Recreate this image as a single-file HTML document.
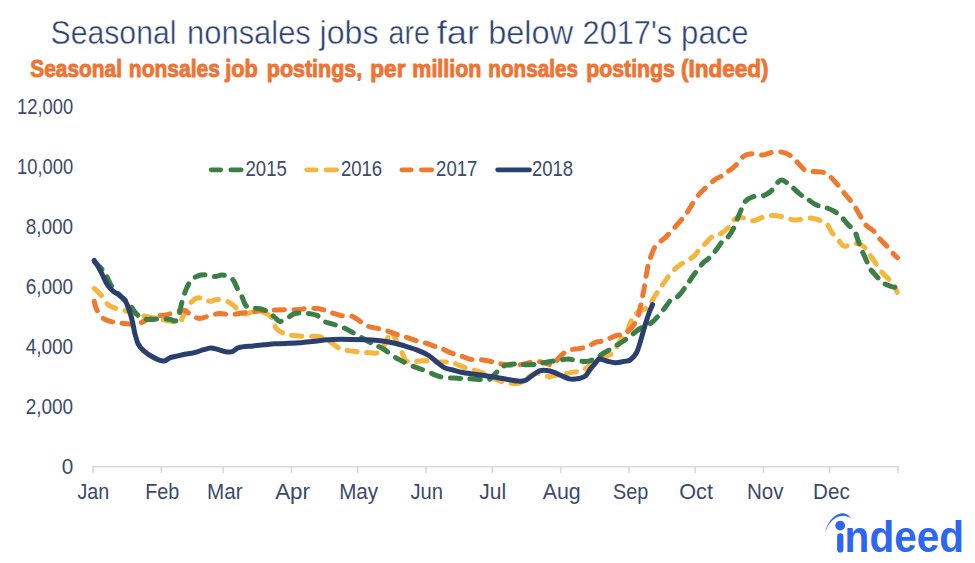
<!DOCTYPE html>
<html><head><meta charset="utf-8"><title>Seasonal nonsales jobs</title>
<style>
html,body{margin:0;padding:0;background:#fff;}
body{width:975px;height:563px;overflow:hidden;}
svg{display:block;}
.ax{font-family:"Liberation Sans",Arial,sans-serif;font-size:21.8px;fill:#3b4a6b;}
.title{font-family:"Liberation Sans",Arial,sans-serif;font-size:32.3px;fill:#2d4271;stroke:#fff;stroke-width:0.45px;}
.sub{font-family:"Liberation Sans",Arial,sans-serif;font-size:23px;font-weight:bold;fill:#ef7433;stroke:#ef7433;stroke-width:0.9px;stroke-linejoin:round;}
.logo{font-family:"Liberation Sans",Arial,sans-serif;font-size:44px;font-weight:bold;fill:#2d66f0;}
</style></head>
<body>
<svg width="975" height="563" viewBox="0 0 975 563">
<rect width="975" height="563" fill="#fff"/>
<text x="17.10" y="114.10" class="ax" textLength="56.08" lengthAdjust="spacingAndGlyphs">12,000</text>
<text x="17.10" y="174.03" class="ax" textLength="56.08" lengthAdjust="spacingAndGlyphs">10,000</text>
<text x="25.70" y="233.96" class="ax" textLength="47.45" lengthAdjust="spacingAndGlyphs">8,000</text>
<text x="25.70" y="293.89" class="ax" textLength="47.45" lengthAdjust="spacingAndGlyphs">6,000</text>
<text x="25.70" y="353.82" class="ax" textLength="47.45" lengthAdjust="spacingAndGlyphs">4,000</text>
<text x="25.70" y="413.75" class="ax" textLength="47.45" lengthAdjust="spacingAndGlyphs">2,000</text>
<text x="61.70" y="473.68" class="ax" textLength="11.52" lengthAdjust="spacingAndGlyphs">0</text>
<text x="50.60" y="43.70" class="title" textLength="125.80" lengthAdjust="spacingAndGlyphs">Seasonal</text>
<text x="187.10" y="43.70" class="title" textLength="123.74" lengthAdjust="spacingAndGlyphs">nonsales</text>
<text x="319.60" y="43.70" class="title" textLength="58.98" lengthAdjust="spacingAndGlyphs">jobs</text>
<text x="388.50" y="43.70" class="title" textLength="41.31" lengthAdjust="spacingAndGlyphs">are</text>
<text x="436.70" y="43.70" class="title" textLength="42.47" lengthAdjust="spacingAndGlyphs">far</text>
<text x="488.20" y="43.70" class="title" textLength="84.93" lengthAdjust="spacingAndGlyphs">below</text>
<text x="582.60" y="43.70" class="title" textLength="89.52" lengthAdjust="spacingAndGlyphs">2017's</text>
<text x="681.10" y="43.70" class="title" textLength="67.45" lengthAdjust="spacingAndGlyphs">pace</text>
<text x="30.30" y="77.20" class="sub" textLength="91.63" lengthAdjust="spacingAndGlyphs">Seasonal</text>
<text x="128.80" y="77.20" class="sub" textLength="91.10" lengthAdjust="spacingAndGlyphs">nonsales</text>
<text x="225.24" y="77.20" class="sub" textLength="32.65" lengthAdjust="spacingAndGlyphs">job</text>
<text x="266.80" y="77.20" class="sub" textLength="95.39" lengthAdjust="spacingAndGlyphs">postings,</text>
<text x="370.30" y="77.20" class="sub" textLength="35.13" lengthAdjust="spacingAndGlyphs">per</text>
<text x="412.30" y="77.20" class="sub" textLength="69.15" lengthAdjust="spacingAndGlyphs">million</text>
<text x="488.30" y="77.20" class="sub" textLength="89.60" lengthAdjust="spacingAndGlyphs">nonsales</text>
<text x="586.30" y="77.20" class="sub" textLength="88.63" lengthAdjust="spacingAndGlyphs">postings</text>
<text x="680.90" y="77.20" class="sub" textLength="87.57" lengthAdjust="spacingAndGlyphs">(Indeed)</text>
<line x1="92.5" y1="466.8" x2="898" y2="466.8" stroke="#d9d9d9" stroke-width="1.6"/>
<line x1="93.0" y1="466" x2="93.0" y2="473" stroke="#d9d9d9" stroke-width="1.6"/>
<line x1="161.4" y1="466" x2="161.4" y2="473" stroke="#d9d9d9" stroke-width="1.6"/>
<line x1="223.1" y1="466" x2="223.1" y2="473" stroke="#d9d9d9" stroke-width="1.6"/>
<line x1="291.5" y1="466" x2="291.5" y2="473" stroke="#d9d9d9" stroke-width="1.6"/>
<line x1="357.7" y1="466" x2="357.7" y2="473" stroke="#d9d9d9" stroke-width="1.6"/>
<line x1="426.0" y1="466" x2="426.0" y2="473" stroke="#d9d9d9" stroke-width="1.6"/>
<line x1="492.2" y1="466" x2="492.2" y2="473" stroke="#d9d9d9" stroke-width="1.6"/>
<line x1="560.6" y1="466" x2="560.6" y2="473" stroke="#d9d9d9" stroke-width="1.6"/>
<line x1="628.9" y1="466" x2="628.9" y2="473" stroke="#d9d9d9" stroke-width="1.6"/>
<line x1="695.1" y1="466" x2="695.1" y2="473" stroke="#d9d9d9" stroke-width="1.6"/>
<line x1="763.5" y1="466" x2="763.5" y2="473" stroke="#d9d9d9" stroke-width="1.6"/>
<line x1="829.6" y1="466" x2="829.6" y2="473" stroke="#d9d9d9" stroke-width="1.6"/>
<line x1="898.0" y1="466" x2="898.0" y2="473" stroke="#d9d9d9" stroke-width="1.6"/>
<text x="77.50" y="499.20" class="ax" textLength="31.75" lengthAdjust="spacingAndGlyphs">Jan</text>
<text x="145.20" y="499.20" class="ax" textLength="34.06" lengthAdjust="spacingAndGlyphs">Feb</text>
<text x="207.10" y="499.20" class="ax" textLength="35.45" lengthAdjust="spacingAndGlyphs">Mar</text>
<text x="275.20" y="499.20" class="ax" textLength="34.83" lengthAdjust="spacingAndGlyphs">Apr</text>
<text x="339.20" y="499.20" class="ax" textLength="38.98" lengthAdjust="spacingAndGlyphs">May</text>
<text x="410.40" y="499.20" class="ax" textLength="32.55" lengthAdjust="spacingAndGlyphs">Jun</text>
<text x="479.30" y="499.20" class="ax" textLength="26.87" lengthAdjust="spacingAndGlyphs">Jul</text>
<text x="542.70" y="499.20" class="ax" textLength="37.99" lengthAdjust="spacingAndGlyphs">Aug</text>
<text x="613.10" y="499.20" class="ax" textLength="35.19" lengthAdjust="spacingAndGlyphs">Sep</text>
<text x="679.30" y="499.20" class="ax" textLength="33.61" lengthAdjust="spacingAndGlyphs">Oct</text>
<text x="747.00" y="499.20" class="ax" textLength="36.57" lengthAdjust="spacingAndGlyphs">Nov</text>
<text x="813.10" y="499.20" class="ax" textLength="36.67" lengthAdjust="spacingAndGlyphs">Dec</text>
<path d="M94.2 288.5 C95.4 289.6 98.9 292.7 101.2 295.4 C103.5 298.1 105.8 302.5 108.1 304.6 C110.4 306.7 112.3 307.1 115.0 308.1 C117.7 309.1 121.1 309.5 124.2 310.4 C127.3 311.3 130.0 312.4 133.5 313.4 C137.0 314.4 141.2 315.3 145.0 316.2 C148.8 317.1 152.7 317.7 156.5 318.5 C160.3 319.3 164.2 320.2 168.1 320.8 C171.9 321.4 176.9 323.1 179.6 321.9 C182.3 320.7 182.3 317.1 184.2 313.8 C186.1 310.5 188.9 305.0 191.2 302.3 C193.5 299.6 196.0 298.1 198.1 297.7 C200.2 297.3 201.9 299.4 204.0 300.0 C206.1 300.6 208.5 301.3 210.7 301.2 C212.9 301.1 214.5 299.5 217.0 299.4 C219.5 299.3 223.1 299.9 225.6 300.7 C228.1 301.5 229.9 302.8 232.0 304.3 C234.1 305.8 236.3 308.1 238.4 309.7 C240.5 311.3 242.3 313.5 244.8 313.9 C247.3 314.2 250.5 312.1 253.3 311.8 C256.1 311.5 259.0 311.1 261.8 311.8 C264.6 312.5 268.4 314.3 270.3 316.1 C272.2 317.9 272.4 320.4 273.5 322.5 C274.6 324.6 275.1 327.1 276.7 328.9 C278.3 330.7 280.6 332.0 283.1 333.1 C285.6 334.2 288.4 334.8 291.6 335.3 C294.8 335.8 298.4 336.1 302.3 336.3 C306.2 336.5 311.7 336.1 315.1 336.3 C318.6 336.5 320.4 336.6 323.0 337.6 C325.6 338.6 328.2 340.6 331.0 342.4 C333.8 344.2 337.2 347.3 339.9 348.6 C342.6 349.9 344.1 349.9 347.0 350.4 C349.9 350.9 354.4 351.4 357.6 351.8 C360.9 352.2 363.2 352.3 366.5 352.5 C369.8 352.7 374.4 353.6 377.1 353.0 C379.8 352.4 380.9 350.8 382.5 348.6 C384.1 346.4 385.4 342.4 386.9 339.7 C388.4 337.0 389.7 332.3 391.3 332.6 C392.9 332.9 395.1 338.5 396.7 341.5 C398.3 344.5 399.6 347.3 401.1 350.4 C402.6 353.5 403.6 358.2 405.5 360.1 C407.4 362.0 409.9 361.8 412.6 361.9 C415.3 362.0 418.8 360.8 421.5 360.7 C424.2 360.6 426.4 360.8 428.6 361.0 C430.9 361.2 432.4 361.8 435.0 361.9 C437.6 362.0 441.2 361.8 444.2 361.9 C447.1 362.0 449.8 362.0 452.7 362.7 C455.6 363.4 458.4 365.1 461.3 366.2 C464.2 367.3 466.7 368.2 469.8 369.1 C472.9 370.1 476.5 370.7 479.8 371.9 C483.1 373.1 486.6 374.8 489.7 376.2 C492.8 377.6 495.6 379.3 498.2 380.4 C500.8 381.5 502.1 382.1 505.4 382.6 C508.7 383.1 514.7 384.0 518.2 383.3 C521.8 382.6 523.9 380.0 526.7 378.3 C529.5 376.6 532.6 373.9 535.2 373.3 C537.8 372.7 539.8 374.1 542.3 374.7 C544.8 375.3 548.1 376.8 550.0 376.9 C551.9 377.0 551.5 375.9 553.5 375.5 C555.5 375.1 558.8 375.4 562.0 374.8 C565.2 374.2 569.5 372.7 572.7 372.1 C575.9 371.5 578.4 372.3 581.2 371.2 C584.1 370.1 586.9 367.4 589.8 365.3 C592.6 363.2 595.5 360.0 598.3 358.4 C601.1 356.8 604.3 356.7 606.8 355.7 C609.3 354.7 611.2 354.5 613.2 352.5 C615.2 350.5 617.1 346.2 618.5 343.9 C619.9 341.6 620.3 340.7 621.7 338.6 C623.1 336.5 625.5 334.2 627.1 331.2 C628.7 328.2 629.7 323.5 631.3 320.5 C632.9 317.5 634.6 314.8 636.6 313.0 C638.6 311.2 640.9 311.0 643.0 309.8 C645.1 308.6 647.4 307.9 649.4 305.6 C651.4 303.3 653.0 298.9 654.8 296.0 C656.6 293.1 658.4 291.0 660.1 288.5 C661.8 286.0 663.3 283.5 665.0 281.1 C666.7 278.7 668.4 276.3 670.4 273.9 C672.4 271.5 675.0 268.8 677.3 266.9 C679.6 265.0 681.5 264.0 684.2 262.3 C686.9 260.6 691.0 258.6 693.5 256.5 C696.0 254.4 697.1 251.9 699.2 249.6 C701.3 247.3 704.1 244.8 706.2 242.7 C708.3 240.6 709.4 238.4 711.9 236.9 C714.4 235.4 718.4 235.2 721.2 233.5 C724.1 231.8 726.5 229.6 729.0 227.0 C731.5 224.4 733.4 219.6 736.0 218.1 C738.6 216.6 741.9 217.6 744.9 218.1 C747.9 218.6 750.8 221.0 753.7 220.8 C756.7 220.7 759.3 218.1 762.6 217.2 C765.9 216.3 770.0 215.5 773.3 215.4 C776.5 215.3 778.9 215.9 782.1 216.7 C785.4 217.4 789.8 219.4 792.8 219.9 C795.8 220.4 796.9 219.8 799.9 219.5 C802.9 219.2 807.4 218.0 810.5 218.1 C813.6 218.2 815.8 219.0 818.5 219.9 C821.2 220.8 824.3 221.3 826.5 223.4 C828.7 225.5 829.9 229.6 831.8 232.3 C833.7 235.0 836.0 237.1 838.1 239.4 C840.2 241.7 841.5 245.5 844.2 246.2 C847.0 246.9 851.5 243.5 854.6 243.4 C857.7 243.3 860.4 244.1 862.7 245.7 C865.0 247.3 866.6 250.5 868.5 253.1 C870.4 255.7 872.1 258.1 874.2 261.2 C876.3 264.3 878.9 268.6 881.2 271.5 C883.5 274.4 886.0 276.2 888.1 278.5 C890.2 280.8 892.3 283.1 893.8 285.4 C895.3 287.7 896.7 291.1 897.3 292.3" fill="none" stroke="#f6b53d" stroke-width="5.0" stroke-linecap="round" stroke-linejoin="round" stroke-dasharray="10.2 9.5"/>
<path d="M94.2 301.2 C94.6 302.5 95.0 306.3 96.5 309.2 C98.0 312.1 100.8 316.4 103.5 318.5 C106.2 320.6 109.2 321.1 112.7 321.9 C116.2 322.7 120.3 323.1 124.2 323.5 C128.1 323.9 132.3 324.6 135.8 324.2 C139.3 323.8 141.6 322.1 145.0 320.8 C148.4 319.5 153.0 317.2 156.5 316.2 C160.0 315.2 162.3 315.8 165.8 315.0 C169.3 314.2 174.2 312.3 177.3 311.5 C180.4 310.7 181.5 309.6 184.2 310.4 C186.9 311.2 190.9 314.8 193.5 316.2 C196.1 317.6 197.5 318.5 200.0 318.5 C202.5 318.5 205.3 316.9 208.5 316.1 C211.7 315.3 215.6 313.8 219.2 313.5 C222.8 313.2 226.2 314.6 229.8 314.6 C233.4 314.6 236.9 313.8 240.5 313.3 C244.1 312.8 247.6 312.2 251.2 311.8 C254.8 311.4 258.2 311.0 261.8 310.7 C265.4 310.4 268.6 310.3 272.5 310.1 C276.4 309.9 281.4 309.8 285.3 309.7 C289.2 309.6 292.3 309.9 295.9 309.7 C299.4 309.5 303.1 308.8 306.6 308.6 C310.2 308.4 314.0 308.3 317.2 308.6 C320.4 308.9 323.1 309.6 325.7 310.4 C328.3 311.1 330.1 312.2 332.8 313.1 C335.5 314.0 338.4 315.2 341.6 315.7 C344.9 316.2 349.0 315.2 352.3 316.3 C355.6 317.4 358.5 320.3 361.2 322.0 C363.9 323.7 365.4 325.3 368.3 326.4 C371.2 327.5 375.6 327.9 378.9 328.7 C382.1 329.5 384.8 330.2 387.8 331.2 C390.8 332.1 393.8 333.4 396.7 334.4 C399.6 335.4 402.2 336.0 405.5 337.0 C408.8 338.0 412.9 339.6 416.2 340.6 C419.5 341.6 422.0 341.9 425.1 342.9 C428.2 343.9 432.3 345.6 435.0 346.5 C437.7 347.4 438.7 347.3 441.4 348.4 C444.1 349.5 448.2 351.8 451.3 353.0 C454.4 354.2 456.8 354.5 459.9 355.5 C463.0 356.5 466.5 358.4 469.8 359.1 C473.1 359.8 476.5 359.1 479.8 359.5 C483.1 359.9 486.6 360.6 489.7 361.2 C492.8 361.8 495.3 362.8 498.2 363.4 C501.1 364.0 504.0 364.4 506.8 364.8 C509.6 365.2 512.0 365.7 515.3 365.5 C518.6 365.3 523.4 364.1 526.7 363.4 C530.0 362.7 532.4 361.3 535.2 361.2 C538.1 361.1 541.3 362.1 543.8 362.7 C546.3 363.2 548.4 364.2 550.0 364.5 C551.6 364.8 551.7 365.7 553.5 364.2 C555.3 362.7 558.5 358.0 561.0 355.7 C563.5 353.4 565.4 351.5 568.4 350.3 C571.4 349.1 575.9 349.2 579.1 348.6 C582.3 348.0 584.8 347.6 587.6 346.5 C590.5 345.4 593.4 343.2 596.2 342.2 C599.1 341.2 601.5 341.8 604.7 340.7 C607.9 339.6 612.1 336.9 615.3 335.8 C618.5 334.7 621.4 335.4 623.9 334.3 C626.4 333.2 628.2 331.3 630.3 329.0 C632.4 326.7 635.0 323.7 636.6 320.5 C638.2 317.3 638.9 313.4 639.8 309.8 C640.7 306.2 641.3 302.8 642.0 299.2 C642.7 295.6 643.2 293.5 644.1 288.5 C645.0 283.5 646.4 273.9 647.3 269.2 C648.2 264.4 648.2 263.8 649.6 260.0 C651.0 256.2 652.9 249.8 655.4 246.2 C657.9 242.5 662.1 240.4 664.6 238.1 C667.1 235.8 668.1 234.8 670.4 232.3 C672.7 229.8 676.0 226.0 678.5 223.1 C681.0 220.2 683.3 217.9 685.4 215.0 C687.5 212.1 688.9 209.3 691.2 205.8 C693.5 202.3 696.7 197.3 699.2 194.2 C701.7 191.1 703.5 189.8 706.2 187.3 C708.9 184.8 712.7 181.1 715.4 179.2 C718.1 177.3 720.3 177.0 722.3 175.8 C724.2 174.6 725.4 173.2 727.1 172.0 C728.8 170.8 730.6 169.9 732.4 168.4 C734.2 166.9 735.9 165.2 737.8 163.1 C739.7 161.0 741.6 157.6 744.0 156.0 C746.4 154.4 748.9 154.0 752.0 153.8 C755.1 153.7 759.4 155.3 762.6 155.1 C765.9 154.9 768.2 152.9 771.5 152.4 C774.8 151.9 778.9 151.5 782.1 152.1 C785.4 152.7 788.3 154.2 791.0 156.0 C793.7 157.8 795.7 160.7 798.1 163.1 C800.5 165.5 802.5 168.8 805.2 170.2 C807.9 171.6 810.9 171.2 814.1 171.6 C817.4 172.0 821.8 171.7 824.7 172.8 C827.7 173.9 829.6 176.1 831.8 178.2 C834.0 180.3 836.0 182.8 838.1 185.3 C840.2 187.8 842.2 190.7 844.2 193.1 C846.2 195.5 848.1 197.5 850.0 200.0 C851.9 202.5 854.1 205.4 855.8 208.1 C857.5 210.8 858.7 213.3 860.4 216.2 C862.1 219.1 864.1 223.0 866.2 225.4 C868.3 227.8 870.8 228.2 873.1 230.5 C875.4 232.8 877.7 236.6 880.0 239.2 C882.3 241.8 884.8 243.9 886.9 246.2 C889.0 248.5 890.9 251.2 892.7 253.1 C894.5 255.0 896.7 256.9 897.5 257.7" fill="none" stroke="#ef7a2f" stroke-width="5.0" stroke-linecap="round" stroke-linejoin="round" stroke-dasharray="10.2 9.5"/>
<path d="M94.5 262.0 C96.2 263.7 101.8 268.3 104.6 272.3 C107.4 276.3 108.9 282.3 111.5 286.2 C114.1 290.1 117.1 292.6 120.0 295.5 C122.9 298.4 126.4 300.8 128.8 303.5 C131.2 306.2 132.7 309.2 134.6 311.5 C136.5 313.8 137.9 315.9 140.4 317.3 C142.9 318.7 146.1 319.4 149.6 319.6 C153.1 319.8 157.7 318.5 161.2 318.5 C164.7 318.5 167.7 319.4 170.4 319.6 C173.1 319.8 175.4 322.5 177.3 319.6 C179.2 316.7 180.4 307.5 181.9 302.3 C183.4 297.1 184.9 292.1 186.5 288.5 C188.1 284.9 189.3 282.5 191.2 280.4 C193.1 278.3 195.8 276.7 198.1 275.8 C200.4 274.9 202.2 274.7 205.0 274.8 C207.8 274.9 212.2 276.6 214.9 276.6 C217.6 276.7 219.4 275.2 221.3 275.1 C223.2 275.0 224.7 275.2 226.6 276.0 C228.5 276.8 231.2 277.7 233.0 279.8 C234.8 281.9 235.9 285.7 237.3 288.4 C238.7 291.1 240.2 293.0 241.6 295.8 C243.0 298.6 244.2 303.4 245.8 305.4 C247.4 307.4 248.9 307.5 251.2 308.0 C253.5 308.5 256.9 308.0 259.7 308.6 C262.5 309.2 265.7 310.4 268.2 311.8 C270.7 313.2 272.7 315.5 274.6 317.1 C276.6 318.7 277.8 321.2 279.9 321.4 C282.0 321.6 285.1 319.4 287.4 318.2 C289.7 316.9 291.3 314.8 293.8 313.9 C296.3 313.0 299.5 312.9 302.3 312.9 C305.1 312.9 308.3 313.5 310.8 313.9 C313.3 314.3 315.0 314.3 317.2 315.5 C319.4 316.7 321.6 319.7 323.9 321.1 C326.2 322.5 328.1 322.7 331.0 323.7 C333.9 324.7 338.5 325.7 341.6 326.9 C344.7 328.1 346.6 329.2 349.6 330.8 C352.6 332.4 356.3 334.4 359.4 336.2 C362.5 338.0 365.6 340.0 368.3 341.5 C371.0 343.0 372.8 343.7 375.4 345.0 C378.0 346.3 381.2 347.7 384.2 349.5 C387.1 351.3 390.4 354.2 393.1 356.0 C395.8 357.8 397.2 358.5 400.2 360.1 C403.2 361.7 407.9 364.1 410.9 365.4 C413.9 366.7 415.1 367.0 418.0 368.1 C420.9 369.2 425.8 370.9 428.6 372.0 C431.4 373.1 432.4 374.0 435.0 374.9 C437.6 375.8 441.0 377.1 444.2 377.6 C447.4 378.1 450.9 377.8 454.2 378.0 C457.5 378.2 461.0 378.4 464.1 378.6 C467.2 378.8 469.4 378.8 472.7 379.0 C476.0 379.2 481.1 379.7 484.0 379.7 C486.9 379.7 488.3 379.8 490.0 379.0 C491.7 378.2 492.2 376.5 494.0 374.8 C495.8 373.1 498.5 370.3 500.5 368.7 C502.5 367.1 503.1 366.0 506.0 365.2 C508.9 364.4 514.8 363.9 518.2 363.8 C521.7 363.7 523.4 364.8 526.7 364.8 C530.0 364.9 535.2 364.5 538.1 364.1 C541.0 363.8 541.2 363.2 543.8 362.7 C546.4 362.2 550.5 361.5 553.5 361.0 C556.5 360.5 559.5 360.2 562.0 359.9 C564.5 359.5 565.9 358.8 568.4 358.9 C570.9 359.0 573.8 360.2 577.0 360.6 C580.2 361.0 584.4 361.9 587.6 361.4 C590.8 360.9 593.4 359.3 596.2 357.8 C599.1 356.3 601.5 354.4 604.7 352.5 C607.9 350.6 612.1 348.1 615.3 346.1 C618.5 344.1 621.0 342.7 623.9 340.7 C626.8 338.7 629.6 336.4 632.4 334.3 C635.2 332.2 637.7 329.9 640.9 328.0 C644.1 326.1 648.8 324.6 651.6 322.6 C654.5 320.6 655.8 318.7 658.0 316.2 C660.2 313.7 662.8 310.5 665.0 307.7 C667.2 304.9 669.2 301.2 671.5 299.2 C673.8 297.2 676.0 298.1 678.5 295.8 C681.0 293.5 684.4 288.3 686.5 285.4 C688.6 282.5 689.3 281.2 691.2 278.5 C693.1 275.8 696.0 271.9 698.1 269.2 C700.2 266.5 701.7 264.4 703.8 262.3 C705.9 260.2 708.7 258.6 710.8 256.5 C712.9 254.4 714.6 252.1 716.5 249.6 C718.4 247.1 720.4 243.6 722.3 241.5 C724.2 239.4 726.2 239.2 728.1 236.9 C730.0 234.6 732.2 231.1 733.9 227.7 C735.6 224.2 737.2 219.5 738.5 216.2 C739.8 212.9 740.8 210.6 741.9 208.1 C743.0 205.6 743.6 203.1 745.4 201.2 C747.2 199.3 749.9 197.7 752.8 196.8 C755.7 195.9 759.6 196.8 762.6 195.9 C765.6 195.0 768.2 193.6 770.6 191.5 C773.0 189.4 774.9 185.4 776.8 183.5 C778.7 181.6 779.7 179.6 782.1 180.0 C784.5 180.4 788.0 183.8 791.0 186.2 C794.0 188.5 797.2 192.0 799.9 194.1 C802.6 196.2 804.3 196.8 807.0 198.6 C809.7 200.4 812.9 203.4 815.9 204.8 C818.9 206.2 821.8 206.1 824.7 207.1 C827.7 208.1 830.9 209.5 833.6 211.0 C836.3 212.5 838.4 214.0 840.8 216.2 C843.1 218.4 845.4 221.7 847.7 224.2 C850.0 226.7 852.9 228.5 854.6 231.2 C856.3 233.9 857.0 237.3 858.1 240.4 C859.2 243.5 860.1 246.3 861.5 249.6 C862.9 252.9 864.9 256.9 866.2 260.0 C867.6 263.1 867.9 265.4 869.6 268.1 C871.3 270.8 874.2 273.7 876.5 276.2 C878.8 278.7 881.0 281.4 883.5 283.1 C886.0 284.8 889.2 285.7 891.5 286.5 C893.8 287.3 896.3 287.5 897.3 287.7" fill="none" stroke="#3a7f45" stroke-width="5.0" stroke-linecap="round" stroke-linejoin="round" stroke-dasharray="10.2 9.5"/>
<path d="M94.2 260.3 C95.0 261.5 97.5 265.3 98.8 267.7 C100.1 270.1 100.9 271.9 102.3 274.6 C103.7 277.3 105.2 281.1 106.9 283.8 C108.6 286.5 110.6 288.9 112.7 290.8 C114.8 292.7 117.5 293.7 119.6 295.4 C121.7 297.1 123.9 298.9 125.4 301.2 C126.9 303.5 127.7 305.9 128.8 309.2 C130.0 312.5 131.3 316.9 132.3 320.8 C133.3 324.7 133.6 328.5 134.6 332.3 C135.6 336.1 136.6 340.7 138.1 343.8 C139.6 346.9 141.5 348.7 143.8 350.8 C146.1 352.9 149.2 354.9 151.9 356.5 C154.6 358.1 157.8 359.7 160.0 360.4 C162.2 361.1 163.3 361.2 164.9 360.8 C166.5 360.4 167.9 358.6 169.8 357.9 C171.7 357.1 173.9 356.9 176.4 356.3 C178.9 355.7 181.9 354.8 184.6 354.2 C187.3 353.6 190.6 353.4 192.8 353.0 C195.0 352.6 195.9 352.2 197.7 351.7 C199.5 351.1 201.3 350.3 203.5 349.7 C205.7 349.1 208.6 348.1 210.9 348.0 C213.2 347.9 215.0 348.7 217.4 349.3 C219.8 349.9 223.1 351.3 225.6 351.7 C228.1 352.1 230.0 352.4 232.2 351.7 C234.4 351.0 235.3 348.6 238.8 347.6 C242.3 346.6 249.1 346.4 253.3 345.9 C257.5 345.4 260.3 345.1 263.9 344.8 C267.4 344.5 271.0 344.0 274.6 343.8 C278.2 343.6 281.8 343.5 285.3 343.4 C288.9 343.3 292.3 343.3 295.9 343.1 C299.4 342.9 303.1 342.5 306.6 342.1 C310.2 341.7 314.3 341.2 317.2 340.9 C320.1 340.6 321.3 340.4 323.9 340.1 C326.5 339.9 328.4 339.5 332.8 339.4 C337.2 339.3 344.6 339.3 350.5 339.4 C356.4 339.4 363.0 339.4 368.3 339.7 C373.6 340.0 378.1 340.5 382.5 341.1 C386.9 341.7 390.8 342.4 394.9 343.3 C399.0 344.2 403.4 345.6 407.3 346.8 C411.2 348.0 414.4 348.9 418.0 350.4 C421.6 351.8 425.7 353.7 428.6 355.5 C431.6 357.3 433.1 359.2 435.7 361.2 C438.3 363.2 441.4 366.1 444.2 367.6 C447.0 369.1 449.8 369.2 452.7 370.0 C455.6 370.8 458.0 371.6 461.3 372.3 C464.6 373.0 468.9 373.5 472.7 374.0 C476.5 374.5 480.7 375.0 484.0 375.5 C487.3 376.0 489.8 376.4 492.6 376.9 C495.5 377.4 498.3 377.8 501.1 378.3 C503.9 378.8 506.8 379.2 509.6 379.7 C512.5 380.2 515.6 381.0 518.2 381.1 C520.8 381.2 522.9 381.3 525.3 380.4 C527.7 379.5 530.0 377.1 532.4 375.5 C534.8 373.9 537.1 371.7 539.5 370.9 C541.9 370.1 544.3 370.3 546.6 370.5 C548.9 370.7 550.9 371.2 553.5 372.1 C556.1 373.0 559.1 374.7 562.0 375.9 C564.9 377.1 567.8 378.7 570.6 379.1 C573.5 379.5 576.6 379.0 579.1 378.5 C581.6 378.0 583.5 377.6 585.5 375.9 C587.5 374.2 589.0 370.7 590.8 368.4 C592.6 366.1 594.8 363.7 596.2 362.1 C597.6 360.5 597.5 359.1 599.3 358.9 C601.1 358.7 604.1 360.4 606.8 361.0 C609.5 361.6 612.4 362.6 615.3 362.7 C618.1 362.8 621.4 361.9 623.9 361.4 C626.4 360.9 628.2 361.4 630.3 359.9 C632.4 358.4 634.8 355.9 636.6 352.5 C638.4 349.1 639.5 344.3 640.9 339.7 C642.3 335.1 643.8 329.4 645.2 324.8 C646.6 320.2 648.2 315.4 649.4 312.0 C650.6 308.6 652.1 305.8 652.6 304.5" fill="none" stroke="#2b3f6e" stroke-width="5.0" stroke-linecap="round" stroke-linejoin="round"/>
<line x1="211.2" y1="169.8" x2="220.7" y2="169.8" stroke="#3a7f45" stroke-width="4.7" stroke-linecap="round"/><line x1="230.7" y1="169.8" x2="241.2" y2="169.8" stroke="#3a7f45" stroke-width="4.7" stroke-linecap="round"/><text x="245.50" y="175.80" class="ax" textLength="41.29" lengthAdjust="spacingAndGlyphs">2015</text>
<line x1="306.6" y1="169.8" x2="316.1" y2="169.8" stroke="#f6b53d" stroke-width="4.7" stroke-linecap="round"/><line x1="326.1" y1="169.8" x2="336.6" y2="169.8" stroke="#f6b53d" stroke-width="4.7" stroke-linecap="round"/><text x="340.90" y="175.80" class="ax" textLength="41.29" lengthAdjust="spacingAndGlyphs">2016</text>
<line x1="401.8" y1="169.8" x2="411.3" y2="169.8" stroke="#ef7a2f" stroke-width="4.7" stroke-linecap="round"/><line x1="421.3" y1="169.8" x2="431.8" y2="169.8" stroke="#ef7a2f" stroke-width="4.7" stroke-linecap="round"/><text x="436.10" y="175.80" class="ax" textLength="41.29" lengthAdjust="spacingAndGlyphs">2017</text>
<line x1="497.6" y1="169.8" x2="529.6" y2="169.8" stroke="#2b3f6e" stroke-width="4.7" stroke-linecap="round"/><text x="531.90" y="175.80" class="ax" textLength="41.29" lengthAdjust="spacingAndGlyphs">2018</text>
<g fill="#2d66f0">
<path d="M824.8 532.6 C828 520 836 513.2 842.5 513.2 C846.5 513.2 849.5 515.5 850.8 518.4 C848.5 516.6 845.5 515.6 842.3 515.7 C835.5 516 828.8 522 824.8 532.6 Z"/>
<circle cx="840.2" cy="525.6" r="4.9"/>
<rect x="837.1" y="533.2" width="6.3" height="19.3" rx="3.1"/>
<text x="844.6" y="552.4" class="logo" textLength="119.5" lengthAdjust="spacingAndGlyphs">ndeed</text>
</g>
</svg>
</body></html>
